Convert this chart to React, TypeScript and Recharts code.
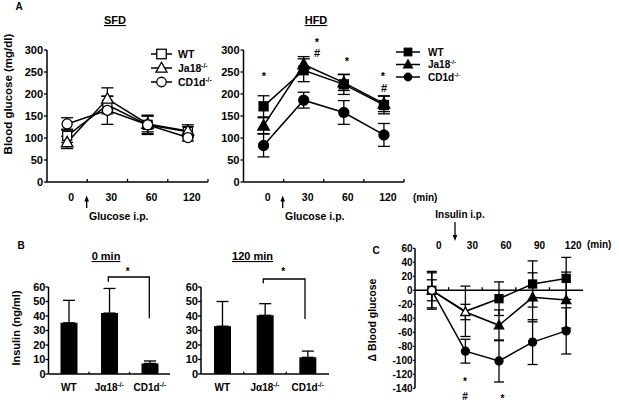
import React from 'react';
import { LineChart, Line, XAxis, YAxis, ErrorBar, ReferenceLine, BarChart, Bar } from 'recharts';

const FONT = '"Liberation Sans", Arial, Helvetica, sans-serif';
const W = 619;
const H = 404;

// ---------- Panel A data ----------
const timesA = ['0', '30', '60', '120'];
const yTicksA = [0, 50, 100, 150, 200, 250, 300];

const sfdWT = [105, 175, 130, 114];
const sfdWTErr = [15, 20, 22, 12];
const sfdJa = [90, 189, 132, 116];
const sfdJaErr = [14, 25, 18, 14];
const sfdCD = [132, 163, 130, 101];
const sfdCDErr = [14, 32, 20, 8];

const hfdWT = [172, 254, 222, 175];
const hfdWTErr = [24, 26, 23, 20];
const hfdJa = [128, 267, 226, 178];
const hfdJaErr = [18, 18, 18, 18];
const hfdCD = [83, 186, 158, 107];
const hfdCDErr = [26, 18, 27, 26];

// ---------- Panel B data ----------
const groupsB = [
  { name: 'WT', sup: '' },
  { name: 'Jα18', sup: '-/-' },
  { name: 'CD1d', sup: '-/-' },
];
const yTicksB = [0, 10, 20, 30, 40, 50, 60];
const insulin0 = [35.3, 42, 7.3];
const insulin0Err = [15.5, 17, 1.7];
const insulin120 = [33, 40.5, 11.5];
const insulin120Err = [17, 8, 4.3];

// ---------- Panel C data ----------
const timesC = [0, 30, 60, 90, 120];
const yTicksC = [60, 40, 20, 0, -20, -40, -60, -80, -100, -120, -140];
const cWT = [0, -30, -12, 9, 17];
const cWTErr = [27, 36, 24, 33, 30];
const cJa = [0, -31, -50, -10, -14];
const cJaErr = [25, 11, 22, 35, 40];
const cCD = [0, -87, -101, -74, -58];
const cCDErr = [15, 17, 30, 32, 33];

const buildA = (wt: number[], wtE: number[], ja: number[], jaE: number[], cd: number[], cdE: number[]) =>
  timesA.map((t, i) => ({ i, wt: wt[i], wtE: wtE[i], ja: ja[i], jaE: jaE[i], cd: cd[i], cdE: cdE[i] }));

const sfdData = buildA(sfdWT, sfdWTErr, sfdJa, sfdJaErr, sfdCD, sfdCDErr);
const hfdData = buildA(hfdWT, hfdWTErr, hfdJa, hfdJaErr, hfdCD, hfdCDErr);

const b0Data = groupsB.map((g, i) => ({ x: i, v: insulin0[i], e: [0, insulin0Err[i]] }));
const b120Data = groupsB.map((g, i) => ({ x: i, v: insulin120[i], e: [0, insulin120Err[i]] }));

const cData = timesC.map((t, i) => ({
  t, wt: cWT[i], wtE: cWTErr[i], ja: cJa[i], jaE: cJaErr[i], cd: cCD[i], cdE: cCDErr[i],
}));

const txt = { fontFamily: FONT, fontWeight: 700, fill: '#000' } as const;
const axisStroke = { stroke: '#000', strokeWidth: 1.5 };

type Shape = 'square' | 'triangle' | 'circle';

const Marker = ({ cx, cy, shape, fill, size }: { cx: number; cy: number; shape: Shape; fill: string; size: number }) => {
  if (cx == null || cy == null || isNaN(cx) || isNaN(cy)) return null;
  const s = size;
  if (shape === 'square') {
    return <rect x={cx - s / 2} y={cy - s / 2} width={s} height={s} fill={fill} stroke="#000" strokeWidth={1.3} />;
  }
  if (shape === 'triangle') {
    const h = s * 0.58;
    return (
      <polygon
        points={`${cx},${cy - h * 1.05} ${cx + h},${cy + h * 0.75} ${cx - h},${cy + h * 0.75}`}
        fill={fill}
        stroke="#000"
        strokeWidth={1.3}
      />
    );
  }
  return <circle cx={cx} cy={cy} r={s / 2} fill={fill} stroke="#000" strokeWidth={1.3} />;
};

const makeDot = (shape: Shape, size: number, fillFn: (i: number) => string | null) => (p: any) => {
  const f = fillFn(p.index);
  if (f == null) return <g key={`d${p.index}`} />;
  return <Marker key={`d${p.index}`} cx={p.cx} cy={p.cy} shape={shape} fill={f} size={size} />;
};

const CatTickA = (p: any) => (
  <text x={p.x + 4} y={p.y + 19} textAnchor="middle" fontSize={10.5} {...txt}>
    {timesA[p.payload.value]}
  </text>
);

const TopTickC = (p: any) => (
  <text x={p.x + 7} y={p.y + 1} textAnchor="middle" fontSize={10} {...txt}>
    {p.payload.value}
  </text>
);

const GroupTick = (p: any) => {
  const g = groupsB[p.payload.value];
  if (!g) return <g />;
  return (
    <text x={p.x} y={p.y + 16.5} textAnchor="middle" fontSize={10} {...txt}>
      {g.name}
      {g.sup ? <tspan fontSize={6.5} dy={-4}>{g.sup}</tspan> : null}
    </text>
  );
};

const yTickStyle = (size: number) => ({ fill: '#000', fontSize: size, fontWeight: 700, fontFamily: FONT });

const PanelA = ({ data, left, right, filled }: { data: any[]; left: number; right: number; filled: boolean }) => {
  const fill = filled ? '#000' : '#fff';
  const errProps = { width: 6, stroke: '#000', strokeWidth: 1.3 };
  return (
    <div style={{ position: 'absolute', left: 0, top: 0 }}>
      <LineChart
        width={W}
        height={H}
        data={data}
        margin={{ top: 50, right: W - right, bottom: H - 182 - 30, left: left - 40 }}
      >
        <XAxis
          dataKey="i"
          type="number"
          domain={[-0.5, 3.5]}
          ticks={[0, 1, 2, 3]}
          interval={0}
          height={30}
          axisLine={axisStroke}
          tickLine={false}
          tickSize={0}
          tickMargin={0}
          tick={CatTickA}
        />
        <YAxis
          domain={[0, 300]}
          ticks={yTicksA}
          interval={0}
          width={40}
          axisLine={axisStroke}
          tickLine={{ stroke: '#000', strokeWidth: 1.3 }}
          tickSize={3}
          tickMargin={1}
          tick={yTickStyle(11)}
        />
        {[0.5, 1.5, 2.5, 3.5].map((x) => (
          <ReferenceLine key={x} segment={[{ x, y: 0 }, { x, y: 7 }]} stroke="#000" strokeWidth={1.3} />
        ))}
        <Line dataKey="wt" stroke="#000" strokeWidth={1.5} isAnimationActive={false}
          dot={makeDot('square', 9, () => fill)}>
          <ErrorBar dataKey="wtE" {...errProps} />
        </Line>
        <Line dataKey="ja" stroke="#000" strokeWidth={1.5} isAnimationActive={false}
          dot={makeDot('triangle', 10, () => fill)}>
          <ErrorBar dataKey="jaE" {...errProps} />
        </Line>
        <Line dataKey="cd" stroke="#000" strokeWidth={1.5} isAnimationActive={false}
          dot={makeDot('circle', 10, () => fill)}>
          <ErrorBar dataKey="cdE" {...errProps} />
        </Line>
      </LineChart>
    </div>
  );
};

const PanelB = ({ data, left, right }: { data: any[]; left: number; right: number }) => (
  <div style={{ position: 'absolute', left: 0, top: 0 }}>
    <BarChart
      width={W}
      height={H}
      data={data}
      barSize={17}
      margin={{ top: 287, right: W - right, bottom: 0, left: left - 40 }}
    >
      <XAxis
        dataKey="x"
        type="number"
        domain={[-0.5, 2.5]}
        ticks={[0, 1, 2]}
        interval={0}
        height={30}
        axisLine={axisStroke}
        tickLine={false}
        tickSize={0}
        tickMargin={0}
        tick={GroupTick}
      />
      <YAxis
        domain={[0, 60]}
        ticks={yTicksB}
        interval={0}
        width={40}
        axisLine={axisStroke}
        tickLine={{ stroke: '#000', strokeWidth: 1.3 }}
        tickSize={3}
        tickMargin={0}
        tick={yTickStyle(11)}
      />
      {[0.5, 1.5].map((x) => (
        <ReferenceLine key={x} segment={[{ x, y: 0 }, { x, y: 1.5 }]} stroke="#000" strokeWidth={1.3} />
      ))}
      <Bar dataKey="v" fill="#000" isAnimationActive={false}>
        <ErrorBar dataKey="e" width={6} stroke="#000" strokeWidth={1.3} />
      </Bar>
    </BarChart>
  </div>
);

const PanelC = () => {
  const errProps = { width: 5, stroke: '#000', strokeWidth: 1.3 };
  return (
    <div style={{ position: 'absolute', left: 0, top: 0 }}>
      <LineChart
        width={W}
        height={H}
        data={cData}
        margin={{ top: 228.3, right: W - 583, bottom: H - 388.3, left: 415 - 40 }}
      >
        <XAxis
          dataKey="t"
          type="number"
          orientation="top"
          domain={[-15, 135]}
          ticks={timesC}
          interval={0}
          height={20}
          axisLine={false}
          tickLine={false}
          tickSize={0}
          tickMargin={0}
          tick={TopTickC}
        />
        <YAxis
          domain={[-140, 60]}
          ticks={yTicksC}
          interval={0}
          width={40}
          axisLine={axisStroke}
          tickLine={{ stroke: '#000', strokeWidth: 1.3 }}
          tickSize={2}
          tickMargin={0.5}
          tick={yTickStyle(10)}
        />
        <ReferenceLine y={0} stroke="#000" strokeWidth={1.5} />
        {[15, 45, 75, 105].map((x) => (
          <ReferenceLine key={x} segment={[{ x, y: 0 }, { x, y: 4.5 }]} stroke="#000" strokeWidth={1.3} />
        ))}
        <Line dataKey="wt" stroke="#000" strokeWidth={1.5} isAnimationActive={false}
          dot={makeDot('square', 8, (i) => (i === 0 ? '#fff' : i === 1 ? null : '#000'))}>
          <ErrorBar dataKey="wtE" {...errProps} />
        </Line>
        <Line dataKey="ja" stroke="#000" strokeWidth={1.5} isAnimationActive={false}
          dot={makeDot('triangle', 8, (i) => (i <= 1 ? '#fff' : '#000'))}>
          <ErrorBar dataKey="jaE" {...errProps} />
        </Line>
        <Line dataKey="cd" stroke="#000" strokeWidth={1.5} isAnimationActive={false}
          dot={makeDot('circle', 8, (i) => (i === 0 ? '#fff' : '#000'))}>
          <ErrorBar dataKey="cdE" {...errProps} />
        </Line>
      </LineChart>
    </div>
  );
};

const legendItems: { shape: Shape; name: string; sup: string }[] = [
  { shape: 'square', name: 'WT', sup: '' },
  { shape: 'triangle', name: 'Ja18', sup: '-/-' },
  { shape: 'circle', name: 'CD1d', sup: '-/-' },
];

const Legend = ({ x0, x1, mx, tx, ys, fill, size, fs }: any) => (
  <g>
    {legendItems.map((it, k) => (
      <g key={it.name}>
        <line x1={x0} x2={x1} y1={ys[k]} y2={ys[k]} stroke="#000" strokeWidth={1.5} />
        <Marker cx={mx} cy={ys[k]} shape={it.shape} fill={fill} size={size} />
        <text x={tx} y={ys[k] + fs * 0.36} fontSize={fs} {...txt}>
          {it.name}
          {it.sup ? <tspan fontSize={fs * 0.62} dy={-fs * 0.38}>{it.sup}</tspan> : null}
        </text>
      </g>
    ))}
  </g>
);

const Star = ({ x, y, ch = '*', fs = 11 }: { x: number; y: number; ch?: string; fs?: number }) => (
  <text x={x} y={ch === '*' ? y + fs * 0.55 : y + fs * 0.36} textAnchor="middle" fontSize={fs} {...txt}>
    {ch}
  </text>
);

const UpArrow = ({ x, y0, y1 }: { x: number; y0: number; y1: number }) => (
  <g>
    <line x1={x} x2={x} y1={y0 + 4} y2={y1} stroke="#000" strokeWidth={1.3} />
    <polygon points={`${x},${y0} ${x - 2.3},${y0 + 6} ${x + 2.3},${y0 + 6}`} fill="#000" />
  </g>
);

const DownArrow = ({ x, y0, y1 }: { x: number; y0: number; y1: number }) => (
  <g>
    <line x1={x} x2={x} y1={y0} y2={y1 - 4} stroke="#000" strokeWidth={1.3} />
    <polygon points={`${x},${y1} ${x - 2.3},${y1 - 6} ${x + 2.3},${y1 - 6}`} fill="#000" />
  </g>
);

const Overlay = () => (
  <svg width={W} height={H} style={{ position: 'absolute', left: 0, top: 0, pointerEvents: 'none' }}>
    {/* Panel letters */}
    <text x={19} y={10} textAnchor="middle" fontSize={10} {...txt}>A</text>
    <text x={21} y={249} textAnchor="middle" fontSize={10} {...txt}>B</text>
    <text x={376} y={254} textAnchor="middle" fontSize={10} {...txt}>C</text>

    {/* Titles */}
    <text x={115} y={24} textAnchor="middle" fontSize={11} style={{ textDecoration: 'underline' }} {...txt}>SFD</text>
    <text x={316} y={24} textAnchor="middle" fontSize={11} style={{ textDecoration: 'underline' }} {...txt}>HFD</text>
    <text x={106} y={260} textAnchor="middle" fontSize={11} style={{ textDecoration: 'underline' }} {...txt}>0 min</text>
    <text x={252.5} y={260} textAnchor="middle" fontSize={11} style={{ textDecoration: 'underline' }} {...txt}>120 min</text>

    {/* Axis titles */}
    <text transform="translate(12,94) rotate(-90)" textAnchor="middle" fontSize={11.5} {...txt}>Blood glucose (mg/dl)</text>
    <text transform="translate(19.5,328) rotate(-90)" textAnchor="middle" fontSize={11} {...txt}>Insulin (ng/ml)</text>
    <text transform="translate(376,320) rotate(-90)" textAnchor="middle" fontSize={10.5} {...txt}>Δ Blood glucose</text>

    {/* Legends */}
    <Legend x0={151} x1={172} mx={161.5} tx={178} ys={[54, 68, 82]} fill="#fff" size={9.5} fs={10.5} />
    <Legend x0={396} x1={420} mx={408} tx={428} ys={[52, 64.5, 77]} fill="#000" size={7.5} fs={10} />

    {/* Glucose i.p. arrows */}
    <UpArrow x={86.7} y0={195.5} y1={208} />
    <text x={89} y={219.5} fontSize={10.5} {...txt}>Glucose i.p.</text>
    <UpArrow x={282.7} y0={195.5} y1={208} />
    <text x={285} y={219.5} fontSize={10.5} {...txt}>Glucose i.p.</text>
    <text x={413} y={201} fontSize={10} {...txt}>(min)</text>

    {/* HFD significance */}
    <Star x={264} y={74} />
    <Star x={317} y={39.5} />
    <Star x={317} y={53} ch="#" />
    <Star x={347} y={59} />
    <Star x={383} y={74} />
    <Star x={384} y={88.5} ch="#" />

    {/* B brackets */}
    <polyline points="108.3,281.7 108.3,277 149.3,277 149.3,318.3" fill="none" stroke="#000" strokeWidth={1.3} />
    <Star x={127.7} y={269} fs={10} />
    <polyline points="263.3,283.3 263.3,279 305,279 305,319" fill="none" stroke="#000" strokeWidth={1.3} />
    <Star x={283.3} y={269} fs={10} />

    {/* C annotations */}
    <DownArrow x={455} y0={222} y1={241} />
    <text x={460} y={218} textAnchor="middle" fontSize={10} {...txt}>Insulin i.p.</text>
    <text x={587} y={248} fontSize={10} {...txt}>(min)</text>
    <Star x={465} y={379} fs={10} />
    <Star x={465} y={396} ch="#" fs={10} />
    <Star x={502.5} y={396} fs={10} />
  </svg>
);

export default function App() {
  return (
    <div style={{ position: 'absolute', left: 0, top: 0, width: W, height: H, background: '#fff', overflow: 'hidden' }}>
      <PanelA data={sfdData} left={47} right={208} filled={false} />
      <PanelA data={hfdData} left={243.5} right={404} filled={true} />
      <PanelB data={b0Data} left={48.5} right={170} />
      <PanelB data={b120Data} left={201} right={329} />
      <PanelC />
      <Overlay />
    </div>
  );
}
